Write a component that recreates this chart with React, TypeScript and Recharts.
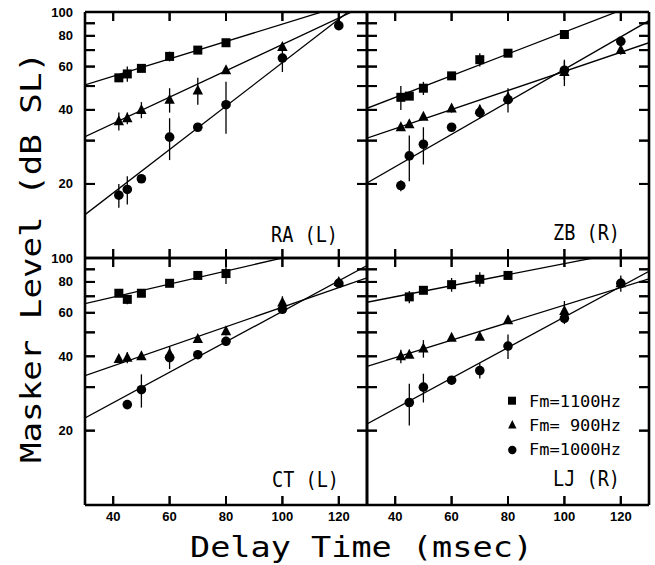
import React from 'react';
import { ComposedChart, Scatter, Line, XAxis, YAxis, ErrorBar, ReferenceLine } from 'recharts';

// delay times (msec) shared by every panel; null = no point at that delay
const delays = [42, 45, 50, 60, 70, 80, 100, 120];
// fitted lines are given by their value at the two ends of the x axis
const fitX = [30, 130];

// RA (L)
const raSquare = [54, 56, 59, 66, 70, 75, null, null];
const raSquareErr = [1, 4, 1, 3, 1, 1, 0, 0];
const raTriangle = [36, 37, 40, 44, 48, 58, 72, null];
const raTriangleErr = [3, 2, 3, 5, 6, 2, 3, 0];
const raCircle = [18, 19, 21, 31, 34, 42, 65, 88];
const raCircleErr = [2, 2.5, 0, 6, 0, 10, 8, 0];
const raFitSquare = [50.5, 114];
const raFitTriangle = [31.1, 107];
const raFitCircle = [15, 114.6];

// ZB (R)
const zbSquare = [45, 45.5, 49, 55, 64, 68, 81, null];
const zbSquareErr = [5, 1, 3, 1, 4, 1, 2, 0];
const zbTriangle = [34, 35, 37.5, 40.5, 40, 45, 57, 70];
const zbTriangleErr = [0, 0, 1, 1.5, 2, 2, 7, 3];
const zbCircle = [19.7, 26, 29, 34, 39, 44, 58, 76];
const zbCircleErr = [1, 5.5, 5, 0, 2, 5, 5, 3];
const zbFitSquare = [40.6, 112.5];
const zbFitTriangle = [30.7, 75];
const zbFitCircle = [20.2, 92.2];

// CT (L)
const ctSquare = [72, 68, 72, 79, 85, 86.5, null, null];
const ctSquareErr = [1, 3, 1, 1, 1, 8, 0, 0];
const ctTriangle = [39, 39.5, 40, 41, 47, 50.5, 66, 80];
const ctTriangleErr = [1, 2, 0, 3, 0, 2, 4, 2];
const ctCircle = [null, 25.5, 29.3, 39.5, 40.6, 46, 62, 79];
const ctCircleErr = [0, 0, 4.5, 4, 0, 2, 2, 2];
const ctFitSquare = [65.4, 120];
const ctFitTriangle = [33.4, 83.1];
const ctFitCircle = [22.5, 93.2];

// LJ (R)
const ljSquare = [null, 69.6, 74, 78, 82, 85, null, null];
const ljSquareErr = [0, 4, 2, 5, 5.5, 1, 0, 0];
const ljTriangle = [40, 40.6, 43, 47.5, 48, 56, 61, 79];
const ljTriangleErr = [2.5, 1, 3.5, 1, 1, 2, 6, 2];
const ljCircle = [null, 26, 30, 32, 35, 44, 57, 79];
const ljCircleErr = [0, 5, 4, 0, 2.5, 5, 3, 6];
const ljFitSquare = [66.2, 110.7];
const ljFitTriangle = [36.4, 82.3];
const ljFitCircle = [21.3, 88.4];

const xTicks = [40, 60, 80, 100, 120];
const yTicks = [20, 30, 40, 50, 60, 70, 80, 90, 100];
const yLabels = [20, 40, 60, 80, 100];
const legendItems = ['Fm=1100Hz', 'Fm= 900Hz', 'Fm=1000Hz'];

const X_MIN = 30;
const X_MAX = 130;
const Y_MIN = 10;
const Y_MAX = 100;

const M = 40;
const TICK_Y = 10; // px, ticks on the y axes
const TICK_X = 9; // px, ticks on the x axes
const tickFont = { fontFamily: '"Liberation Sans", Arial, sans-serif', fontWeight: 700, fontSize: 13 };
const plotFont = '"DejaVu Sans Mono", monospace';

// the same tick lengths in data units (282px per 100 msec, 246px per decade)
const yTickLen = (TICK_Y / 282) * (X_MAX - X_MIN);
const xTickFactor = Math.pow(10, TICK_X / 246);

const toPoints = (vals: (number | null)[], errs: number[]) =>
  delays
    .map((x, i) => ({ x, y: vals[i], err: errs[i] }))
    .filter((p) => p.y != null);

const toFit = (ends: number[]) => fitX.map((x, i) => ({ x, y: ends[i] }));

const SquareDot = (p: any) => <rect x={p.cx - 4.5} y={p.cy - 4.5} width={9} height={9} fill="#000" />;
const TriangleDot = (p: any) => (
  <path d={`M${p.cx},${p.cy - 6}L${p.cx + 5.2},${p.cy + 4}L${p.cx - 5.2},${p.cy + 4}Z`} fill="#000" />
);
const CircleDot = (p: any) => <circle cx={p.cx} cy={p.cy} r={4.8} fill="#000" />;

const LeftLabel = (p: any, showLabel: boolean) =>
  showLabel && yLabels.includes(p.payload.value) ? (
    <text x={Number(p.x) - 12} y={Number(p.y) + 4.5} textAnchor="end" fill="#000" {...tickFont}>
      {p.payload.value}
    </text>
  ) : (
    <g />
  );
const BottomLabel = (p: any, showLabel: boolean) =>
  showLabel ? (
    <text x={Number(p.x)} y={Number(p.y) + 16} textAnchor="middle" fill="#000" {...tickFont}>
      {p.payload.value}
    </text>
  ) : (
    <g />
  );

interface PanelProps {
  left: number;
  top: number;
  width: number;
  height: number;
  squares: any[];
  triangles: any[];
  circles: any[];
  fits: number[][];
  yLabelsOn: boolean;
  xLabelsOn: boolean;
}

const frame = { stroke: '#000', strokeWidth: 2.6 };
const tickStroke = { stroke: '#000', strokeWidth: 2 };

// axes are 1px boxes (recharts skips 0-size axes), so the margin is 1px less
const Panel = ({ left, top, width, height, squares, triangles, circles, fits, yLabelsOn, xLabelsOn }: PanelProps) => (
  <div style={{ position: 'absolute', left: left - M, top: top - M }}>
    <ComposedChart
      width={width + 2 * M}
      height={height + 2 * M}
      margin={{ top: M - 1, right: M - 1, bottom: M - 1, left: M - 1 }}
    >
      <XAxis
        xAxisId="b"
        dataKey="x"
        type="number"
        domain={[X_MIN, X_MAX]}
        allowDataOverflow
        ticks={xTicks}
        interval={0}
        height={1}
        tickSize={-TICK_X}
        tickMargin={TICK_X}
        tickLine={tickStroke}
        axisLine={frame}
        tick={(p: any) => BottomLabel(p, xLabelsOn)}
      />
      <XAxis
        xAxisId="t"
        orientation="top"
        dataKey="x"
        type="number"
        domain={[X_MIN, X_MAX]}
        allowDataOverflow
        ticks={xTicks}
        interval={0}
        height={1}
        tickSize={-TICK_X}
        tickMargin={TICK_X}
        tickLine={tickStroke}
        axisLine={frame}
        tick={() => <g />}
      />
      <YAxis
        yAxisId="l"
        dataKey="y"
        type="number"
        scale="log"
        domain={[Y_MIN, Y_MAX]}
        allowDataOverflow
        ticks={yTicks}
        interval={0}
        width={1}
        tickSize={-TICK_Y}
        tickMargin={TICK_Y}
        tickLine={tickStroke}
        axisLine={frame}
        tick={(p: any) => LeftLabel(p, yLabelsOn)}
      />
      <YAxis
        yAxisId="r"
        orientation="right"
        dataKey="y"
        type="number"
        scale="log"
        domain={[Y_MIN, Y_MAX]}
        allowDataOverflow
        ticks={yTicks}
        interval={0}
        width={1}
        tickSize={-TICK_Y}
        tickMargin={TICK_Y}
        tickLine={tickStroke}
        axisLine={frame}
        tick={() => <g />}
      />

      {/* inward tick marks on all four sides */}
      {yTicks.map((v) => (
        <ReferenceLine
          key={`l${v}`}
          xAxisId="b"
          yAxisId="l"
          ifOverflow="visible"
          segment={[{ x: X_MIN, y: v }, { x: X_MIN + yTickLen, y: v }]}
          {...tickStroke}
        />
      ))}
      {yTicks.map((v) => (
        <ReferenceLine
          key={`r${v}`}
          xAxisId="b"
          yAxisId="l"
          ifOverflow="visible"
          segment={[{ x: X_MAX - yTickLen, y: v }, { x: X_MAX, y: v }]}
          {...tickStroke}
        />
      ))}
      {xTicks.map((v) => (
        <ReferenceLine
          key={`b${v}`}
          xAxisId="b"
          yAxisId="l"
          ifOverflow="visible"
          segment={[{ x: v, y: Y_MIN }, { x: v, y: Y_MIN * xTickFactor }]}
          {...tickStroke}
        />
      ))}
      {xTicks.map((v) => (
        <ReferenceLine
          key={`t${v}`}
          xAxisId="b"
          yAxisId="l"
          ifOverflow="visible"
          segment={[{ x: v, y: Y_MAX / xTickFactor }, { x: v, y: Y_MAX }]}
          {...tickStroke}
        />
      ))}

      {fits.map((f, i) => (
        <Line
          key={i}
          xAxisId="b"
          yAxisId="l"
          data={toFit(f)}
          dataKey="y"
          stroke="#000"
          strokeWidth={1.3}
          dot={false}
          isAnimationActive={false}
        />
      ))}
      <Scatter xAxisId="b" yAxisId="l" data={squares} shape={SquareDot} isAnimationActive={false}>
        <ErrorBar dataKey="err" direction="y" width={0} stroke="#000" strokeWidth={1.3} />
      </Scatter>
      <Scatter xAxisId="b" yAxisId="l" data={triangles} shape={TriangleDot} isAnimationActive={false}>
        <ErrorBar dataKey="err" direction="y" width={0} stroke="#000" strokeWidth={1.3} />
      </Scatter>
      <Scatter xAxisId="b" yAxisId="l" data={circles} shape={CircleDot} isAnimationActive={false}>
        <ErrorBar dataKey="err" direction="y" width={0} stroke="#000" strokeWidth={1.3} />
      </Scatter>
    </ComposedChart>
  </div>
);

const PanelLabel = ({ x, y, text }: { x: number; y: number; text: string }) => (
  <text x={x} y={y} fontFamily={plotFont} fontSize={21} textLength={67} lengthAdjust="spacingAndGlyphs" fill="#000">
    {text}
  </text>
);

export default function App() {
  return (
    <div style={{ position: 'absolute', left: 0, top: 0, width: 655, height: 565, background: '#fff' }}>
      <Panel
        left={85} top={12} width={282} height={246}
        squares={toPoints(raSquare, raSquareErr)}
        triangles={toPoints(raTriangle, raTriangleErr)}
        circles={toPoints(raCircle, raCircleErr)}
        fits={[raFitSquare, raFitTriangle, raFitCircle]}
        yLabelsOn xLabelsOn={false}
      />
      <Panel
        left={367} top={12} width={282} height={246}
        squares={toPoints(zbSquare, zbSquareErr)}
        triangles={toPoints(zbTriangle, zbTriangleErr)}
        circles={toPoints(zbCircle, zbCircleErr)}
        fits={[zbFitSquare, zbFitTriangle, zbFitCircle]}
        yLabelsOn={false} xLabelsOn={false}
      />
      <Panel
        left={85} top={258} width={282} height={247}
        squares={toPoints(ctSquare, ctSquareErr)}
        triangles={toPoints(ctTriangle, ctTriangleErr)}
        circles={toPoints(ctCircle, ctCircleErr)}
        fits={[ctFitSquare, ctFitTriangle, ctFitCircle]}
        yLabelsOn xLabelsOn
      />
      <Panel
        left={367} top={258} width={282} height={247}
        squares={toPoints(ljSquare, ljSquareErr)}
        triangles={toPoints(ljTriangle, ljTriangleErr)}
        circles={toPoints(ljCircle, ljCircleErr)}
        fits={[ljFitSquare, ljFitTriangle, ljFitCircle]}
        yLabelsOn={false} xLabelsOn
      />
      <svg width={655} height={565} style={{ position: 'absolute', left: 0, top: 0, pointerEvents: 'none' }}>
        <PanelLabel x={271} y={242} text="RA (L)" />
        <PanelLabel x={553} y={240} text="ZB (R)" />
        <PanelLabel x={272} y={487} text="CT (L)" />
        <PanelLabel x={553} y={486} text="LJ (R)" />

        {/* legend */}
        <rect x={508} y={396.7} width={8} height={8} fill="#000" />
        <path d="M512.3,420L516.5,428.5L508.1,428.5Z" fill="#000" />
        <circle cx={512.3} cy={450} r={4.2} fill="#000" />
        {legendItems.map((t, i) => (
          <text
            key={t}
            x={529}
            y={[406.7, 430.5, 454.5][i]}
            fontFamily={plotFont}
            fontSize={16}
            textLength={92}
            lengthAdjust="spacingAndGlyphs"
            xmlSpace="preserve"
            fill="#000"
          >
            {t}
          </text>
        ))}

        <text x={190} y={557} fontFamily={plotFont} fontSize={28} textLength={343} lengthAdjust="spacingAndGlyphs" fill="#000">
          Delay Time (msec)
        </text>
        <text
          transform="translate(41,463) rotate(-90)"
          fontFamily={plotFont}
          fontSize={28}
          textLength={411}
          lengthAdjust="spacingAndGlyphs"
          fill="#000"
        >
          Masker Level (dB SL)
        </text>
      </svg>
    </div>
  );
}
